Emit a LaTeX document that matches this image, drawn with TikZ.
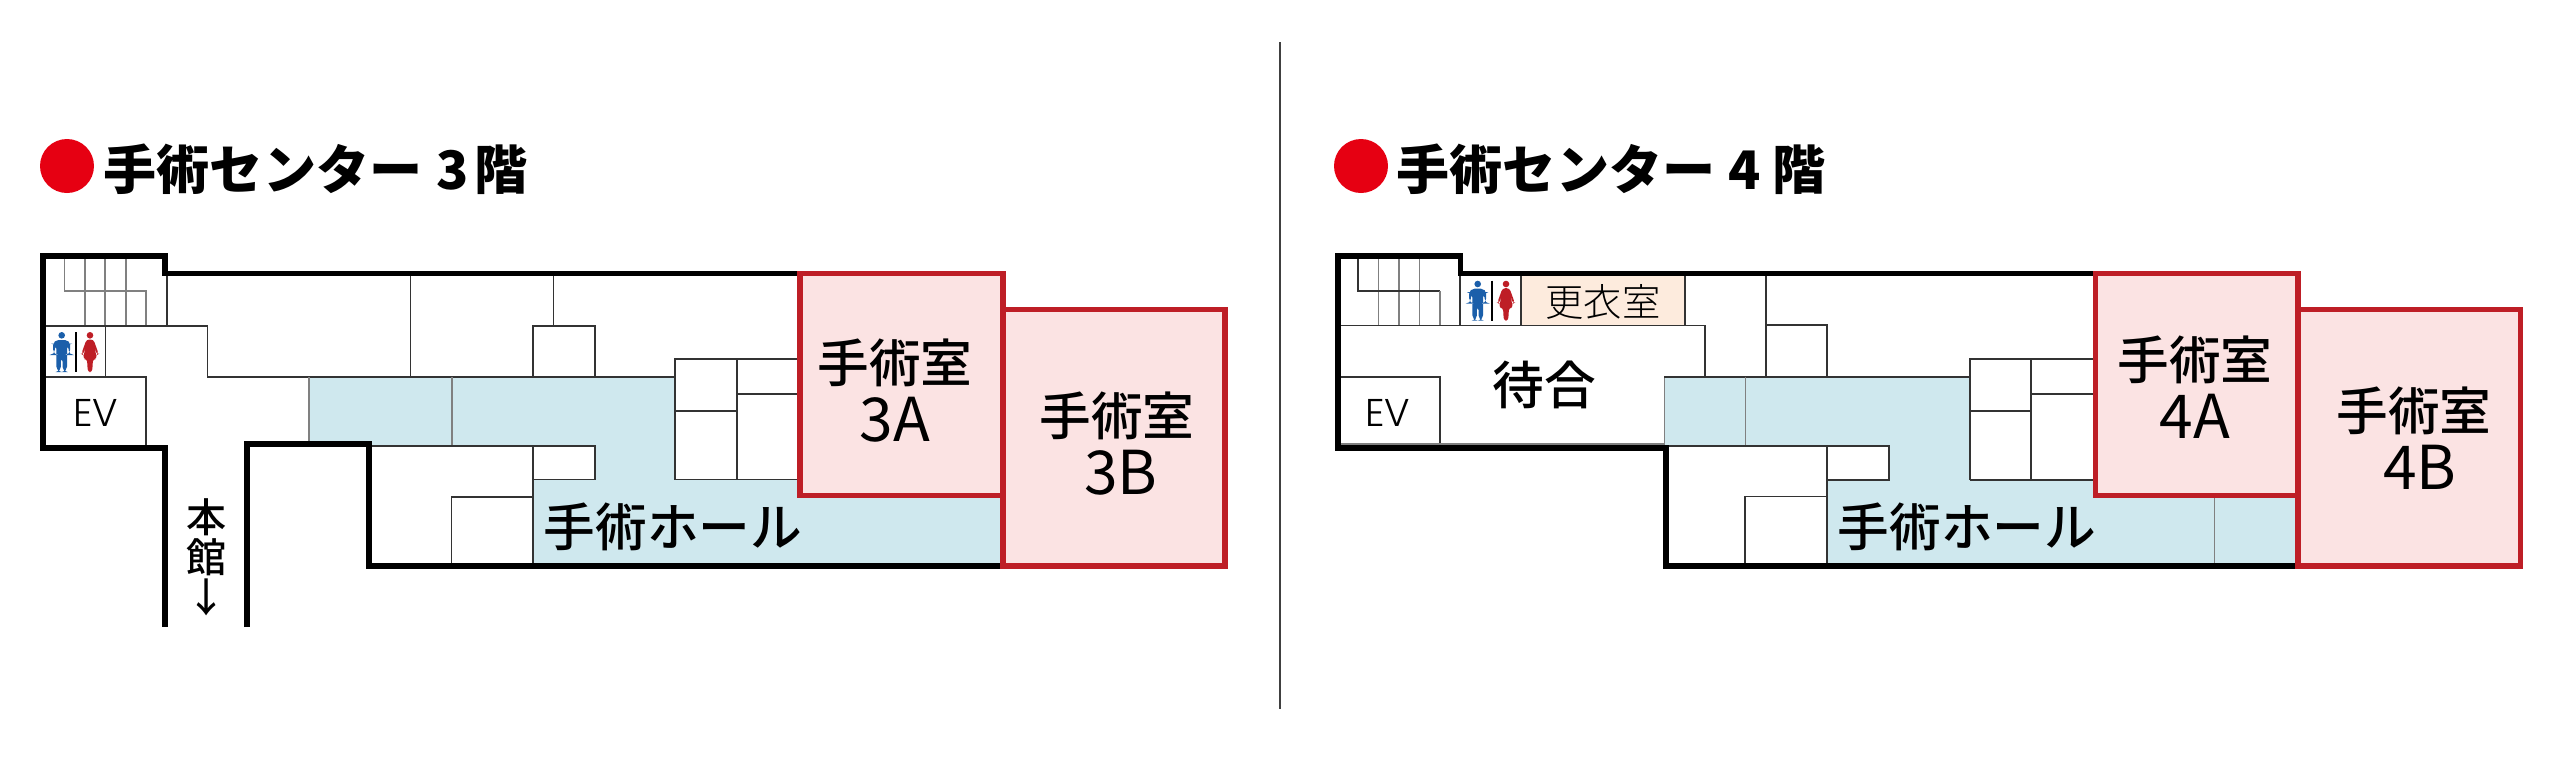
\documentclass[tikz,border=0pt]{standalone}
\usepackage{fontspec}
\setmainfont{Noto Sans CJK JP}
\newfontfamily\lightjp{Noto Sans CJK JP Light}
\newfontfamily\mediumjp{Noto Sans CJK JP Medium}
\newfontfamily\evfont{Poppins Light}
\definecolor{hall}{HTML}{CFE8EE}
\definecolor{oproom}{HTML}{FBE3E3}
\definecolor{oprcolor}{HTML}{BE1E26}
\definecolor{dress}{HTML}{FDEBDD}
\definecolor{titlered}{HTML}{E60012}
\definecolor{manblue}{HTML}{1B5FAA}
\newcommand{\roomno}[1]{{\normalfont\fontsize{17.2}{16.8}\selectfont #1}}
\tikzset{
	wall/.style={line width=1.6pt,miter limit=10},
	thinwall/.style={line width=0.45pt,black!80},
	faintwall/.style={line width=0.4pt,black!50},
	redroom/.style={line width=1.6pt,draw=oprcolor,fill=oproom},
	label/.style={font=\mediumjp\fontsize{14.7}{16.8}\selectfont,align=center,inner sep=0pt},
	title/.style={font=\bfseries\fontsize{15.1}{17}\selectfont,anchor=west,inner sep=0pt},
	small/.style={font=\evfont\fontsize{11}{12}\selectfont,inner sep=0pt},
	man/.pic={
		\fill [manblue] (0,3.3) circle (3.3);
		\fill [manblue,rounded corners=1.5] (-8.5,8) -- (8.5,8) -- (8.5,23) -- (6.8,23) -- (6.8,11.5) -- (5.3,11.5) -- (5.3,40) -- (0.8,40) -- (0.8,24) -- (-0.8,24) -- (-0.8,40) -- (-5.3,40) -- (-5.3,11.5) -- (-6.8,11.5) -- (-6.8,23) -- (-8.5,23) -- cycle;
	},
	woman/.pic={
		\fill [oprcolor] (0,3.3) circle (3.3);
		\fill [oprcolor,rounded corners=0.8] (-3.5,7.5) -- (3.5,7.5) -- (8.7,22) -- (7,23) -- (4,13) -- (7,27) -- (3,27) -- (2.2,40) -- (-2.2,40) -- (-3,27) -- (-7,27) -- (-4,13) -- (-7,23) -- (-8.7,22) -- cycle;
	},
}
\begin{document}
\begin{tikzpicture}[x=0.01cm,y=-0.01cm]
\useasboundingbox (0,0) rectangle (2560,760);

\draw [line width=0.6pt,black!75] (1280,42) -- (1280,709);

%3rd floor
\fill [titlered] (67,166) circle (27);
\node [title] (title3) at (103,169) {手術センター\hspace{0.27em}3\hspace{0.1em}階};

\fill [hall] (309,377) -- (675,377) -- (675,479.5) -- (800,479.5) -- (800,496) -- (1003,496) -- (1003,566) -- (533,566) -- (533,479.5) -- (595,479.5) -- (595,445.7) -- (309,445.7) -- cycle;
\foreach \x in {85,105,126}
	\draw [faintwall] (\x,259) -- (\x,326);
\draw [faintwall] (64.5,259) -- (64.5,291) -- (146,291) -- (146,326);
\draw [thinwall] (167,276) -- (167,326);
\draw [thinwall] (45,326) -- (207.7,326) -- (207.7,377) -- (675,377);
\draw [thinwall] (105.7,326) -- (105.7,377);
\draw [thinwall] (45,377) -- (146,377) -- (146,445);
\draw [thinwall] (410.7,276) -- (410.7,377);
\draw [faintwall] (309,377) -- (309,444);
\draw [faintwall] (452,377) -- (452,445.7);
\draw [thinwall] (553.6,276) -- (553.6,325.7);
\draw [thinwall] (533,377) -- (533,325.7) -- (595,325.7) -- (595,377);
\draw [thinwall] (675,479.5) -- (675,359) -- (800,359);
\draw [thinwall] (737,359) -- (737,479.5);
\draw [thinwall] (737,393.7) -- (800,393.7);
\draw [thinwall] (675,411) -- (737,411);
\draw [thinwall] (675,479.5) -- (800,479.5);
\draw [thinwall] (369,445.7) -- (595,445.7) -- (595,479.5) -- (533,479.5);
\draw [thinwall] (533,445.7) -- (533,566);
\draw [thinwall] (533,496.7) -- (451.6,496.7) -- (451.6,566);
\draw [wall] (800,273.5) -- (165,273.5) -- (165,256) -- (43,256) -- (43,448) -- (165,448) -- (165,627);
\draw [wall] (247,627) -- (247,443.7) -- (369,443.7) -- (369,566) -- (1003,566);
\draw [redroom] (800,273.5) rectangle (1003,495.5);
\draw [redroom] (1003,309.5) rectangle (1225,566);

\pic at (61.7,332) {man};
\draw [line width=0.6pt] (76,332) -- (76,372);
\pic at (90,332) {woman};
\node [small] (ev3) at (95.7,412.7) {EV};
\node [label,font=\mediumjp\fontsize{11.4}{11.4}\selectfont] (honkan) at (206.7,557) {本\\館\\↓};
\node [label] (hall3) at (673,527) {手術ホール};
\node [label] (room3a) at (895,391) {手術室\\\roomno{3A}};
\node [label] (room3b) at (1117,444) {手術室\\\hspace{0.15em}\roomno{3B}};

%4th floor
\fill [titlered] (1361,166) circle (27);
\node [title] (title4) at (1396,169) {手術センター\hspace{0.25em}4\hspace{0.22em}階};

\fill [dress] (1521,276) rectangle (1684.7,325.5);
\fill [hall] (1664.3,376.7) -- (1970,376.7) -- (1970,479.7) -- (2096,479.7) -- (2096,496) -- (2299,496) -- (2299,566) -- (1827,566) -- (1827,479.7) -- (1889,479.7) -- (1889,445.7) -- (1664.3,445.7) -- cycle;
\foreach \x in {1378.7,1399,1419.7}
	\draw [faintwall] (\x,258) -- (\x,325.5);
\draw [thinwall] (1358,258) -- (1358,291) -- (1440,291);
\draw [faintwall] (1440,291) -- (1440,325.5);
\draw [thinwall] (1460,276) -- (1460,325.5);
\draw [thinwall] (1521,276) -- (1521,325.5);
\draw [thinwall] (1684.7,276) -- (1684.7,325.5);
\draw [thinwall] (1340,325.5) -- (1704.7,325.5) -- (1704.7,376.7);
\draw [thinwall] (1340,376.7) -- (1440,376.7) -- (1440,444);
\draw [faintwall] (1340,444) -- (1664.3,444) -- (1664.3,376.7);
\draw [thinwall] (1664.3,376.7) -- (1970,376.7);
\draw [faintwall] (1745.7,376.7) -- (1745.7,445.7);
\draw [thinwall] (1766,276) -- (1766,376.7);
\draw [thinwall] (1766,325) -- (1827,325) -- (1827,376.7);
\draw [thinwall] (1970,479.7) -- (1970,359) -- (2096,359);
\draw [thinwall] (2031,359) -- (2031,479.7);
\draw [thinwall] (2031,393.7) -- (2096,393.7);
\draw [thinwall] (1970,411) -- (2031,411);
\draw [thinwall] (1970,479.7) -- (2096,479.7);
\draw [thinwall] (1666,445.7) -- (1889,445.7) -- (1889,479.7) -- (1827,479.7);
\draw [thinwall] (1827,445.7) -- (1827,566);
\draw [thinwall] (1827,496.3) -- (1745,496.3) -- (1745,566);
\draw [faintwall] (2214.6,498) -- (2214.6,566);
\draw [wall] (2095.5,273.5) -- (1460.5,273.5) -- (1460.5,256) -- (1338,256) -- (1338,448) -- (1666,448) -- (1666,566) -- (2299,566);
\draw [redroom] (2095.5,273.5) rectangle (2298,495.5);
\draw [redroom] (2298,309.5) rectangle (2520.5,566);

\pic at (1477.7,280.7) {man};
\draw [line width=0.6pt] (1491.7,280.7) -- (1491.7,320.7);
\pic at (1506,280.7) {woman};
\node [small,font=\lightjp\fontsize{10.9}{12}\selectfont] (dressing) at (1603,302) {更衣室};
\node [small] (ev4) at (1388,412.7) {EV};
\node [label] (waiting) at (1544,385) {待合};
\node [label] (hall4) at (1967,527) {手術ホール};
\node [label] (room4a) at (2195,387) {手術室\\\roomno{4A}};
\node [label] (room4b) at (2414,438) {手術室\\\hspace{0.23em}\roomno{4B}};
\end{tikzpicture}
\end{document}
